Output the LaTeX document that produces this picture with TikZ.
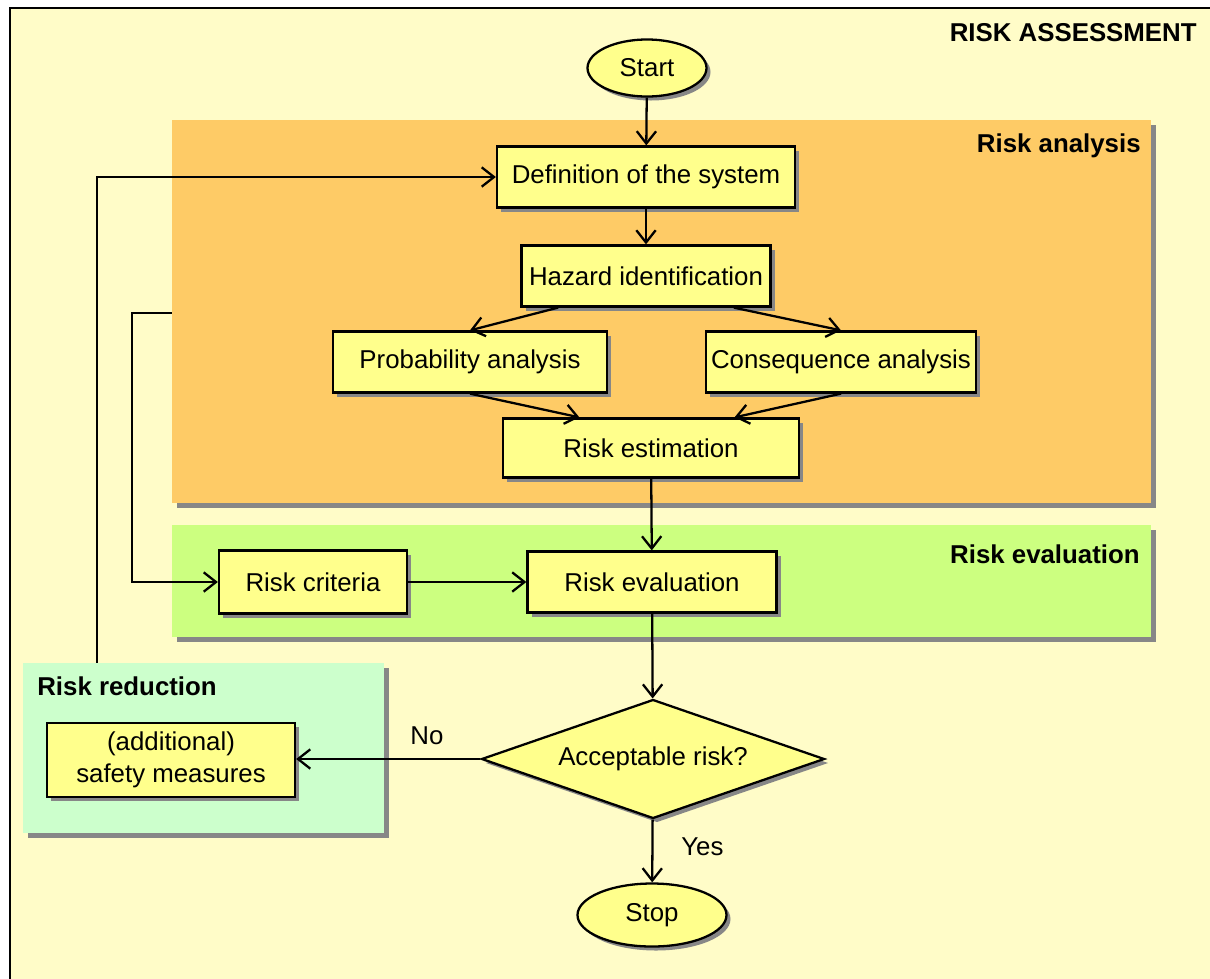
\documentclass[tikz,border=0pt]{standalone}
\usepackage{fontspec}
\setmainfont{Liberation Sans}
\usetikzlibrary{arrows.meta,shapes.geometric,shadows,calc}

\definecolor{pagebg}{RGB}{255,252,200}
\definecolor{analysisbg}{RGB}{254,203,102}
\definecolor{evalbg}{RGB}{204,255,128}
\definecolor{reductionbg}{RGB}{204,255,204}
\definecolor{boxyellow}{RGB}{255,255,140}
\definecolor{shadowgray}{RGB}{135,135,135}

\begin{document}
\begin{tikzpicture}[x=0.02cm, y=-0.02cm,
  every node/.style={font=\fontsize{14.7}{18}\selectfont},
  region/.style={inner sep=0pt, drop shadow={shadow xshift=0.1cm, shadow yshift=-0.1cm, fill=shadowgray, opacity=1}},
  box/.style={draw, line width=1.3pt, fill=boxyellow, inner sep=0pt, align=center,
    drop shadow={shadow xshift=0.08cm, shadow yshift=-0.08cm, fill=shadowgray, opacity=1}},
  title/.style={inner sep=0pt, font=\fontsize{14.7}{18}\selectfont\bfseries},
  lbl/.style={inner sep=0pt, anchor=base west},
  flow/.style={line width=1.3pt, -{Straight Barb[length=7pt,width=11pt]}}
]

\def\pxl{0.02cm}

\useasboundingbox (0,0) rectangle (1210,978);
\clip (0,0) rectangle (1210,978);

% FRAME
\fill [white] (0,0) rectangle (1210,978);
\draw [line width=1.3pt, fill=pagebg] (10,8) rectangle (1240,1000);

% REGIONS
\node [region, fill=analysisbg, minimum width=979*\pxl, minimum height=383*\pxl] (analysis) at (661.5,311.5) {};
\node [region, fill=evalbg, minimum width=979*\pxl, minimum height=112*\pxl] (evaluation) at (661.5,581) {};
\node [region, fill=reductionbg, minimum width=361*\pxl, minimum height=170*\pxl] (reduction) at (203.5,748) {};

\node [title, anchor=base east] (tassess) at (1197,41) {RISK ASSESSMENT};
\node [title, anchor=base east] (tanalysis) at (1141,152) {Risk analysis};
\node [title, anchor=base east] (tevaluation) at (1140,563) {Risk evaluation};
\node [title, anchor=base west] (treduction) at (37,695) {Risk reduction};

% STEPS
\node [box, ellipse, minimum width=119*\pxl, minimum height=57*\pxl] (start) at (647,68) {Start};
\node [box, minimum width=298*\pxl, minimum height=61*\pxl] (def) at (646,177) {Definition of the system};
\node [box, minimum width=249*\pxl, minimum height=61*\pxl] (haz) at (646,276) {Hazard identification};
\node [box, minimum width=274*\pxl, minimum height=61*\pxl] (prob) at (470,362) {Probability analysis};
\node [box, minimum width=270*\pxl, minimum height=61*\pxl] (cons) at (841,362) {Consequence analysis};
\node [box, minimum width=296*\pxl, minimum height=59*\pxl] (est) at (651,448) {Risk estimation};
\node [box, minimum width=188*\pxl, minimum height=63*\pxl] (crit) at (313,582) {Risk criteria};
\node [box, minimum width=249*\pxl, minimum height=61*\pxl] (eval) at (652,582) {Risk evaluation};
\node [box, diamond, aspect=2.9, minimum width=343*\pxl, minimum height=119*\pxl] (dec) at (653,759) {Acceptable risk?};
\node [box, ellipse, minimum width=149*\pxl, minimum height=63*\pxl] (stop) at (652,915) {Stop};
\node [box, minimum width=248*\pxl, minimum height=74*\pxl] (safe) at (171,760) {(additional)\\safety measures};

% CONNECTORS
\draw [flow] (start) -- (def);
\draw [flow] (def) -- (haz);
\draw [flow] ($(haz.south west)!.15!(haz.south east)$) -- (prob.north);
\draw [flow] ($(haz.south west)!.85!(haz.south east)$) -- (cons.north);
\draw [flow] (prob.south) -- ($(est.north west)!.26!(est.north east)$);
\draw [flow] (cons.south) -- ($(est.north west)!.78!(est.north east)$);
\draw [flow] (est) -- (eval);
\draw [flow] (crit) -- (eval);
\draw [flow] (eval) -- (dec);
\draw [flow] (dec.west) -- (dec.west -| safe.east);
\draw [flow] (dec) -- (stop);

% FEEDBACK
\draw [flow] (reduction.north -| 97,0) |- (def);
\draw [flow] (analysis.west |- 0,313) -- ++(-40,0) |- (crit);

\node [lbl] (no) at (410,744) {No};
\node [lbl] (yes) at (681,855) {Yes};

\end{tikzpicture}
\end{document}
